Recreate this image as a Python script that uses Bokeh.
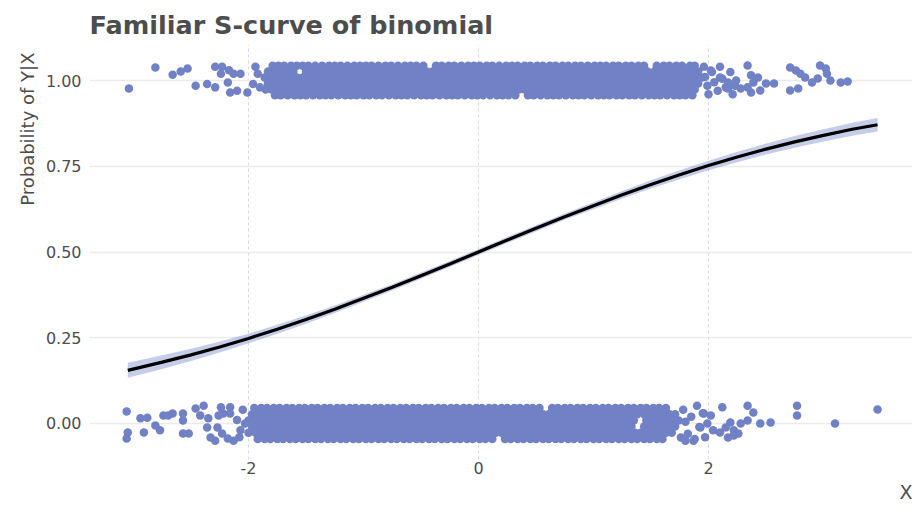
from bokeh.plotting import figure
from bokeh.models import Range1d, FixedTicker, Title
from bokeh.embed import file_html
from bokeh.resources import INLINE

# ---------------- data ----------------
x_tick_vals = [-2, 0, 2]
x_tick_labels = ["-2", "0", "2"]
y_tick_vals = [0.0, 0.25, 0.5, 0.75, 1.0]
y_tick_labels = ["0.00", "0.25", "0.50", "0.75", "1.00"]

# fitted curve and its confidence band
curve_x = [-3.05, -2.75, -2.5, -2.25, -2.0, -1.75, -1.5, -1.25, -1.0, -0.75, -0.5, -0.25, 0.0,
           0.25, 0.5, 0.75, 1.0, 1.25, 1.5, 1.75, 2.0, 2.25, 2.5, 2.75, 3.0, 3.25, 3.47]
curve_p = [0.155, 0.179, 0.200, 0.223, 0.248, 0.275, 0.303, 0.333, 0.365, 0.397, 0.431, 0.465, 0.500,
           0.535, 0.569, 0.603, 0.635, 0.667, 0.697, 0.725, 0.752, 0.777, 0.800, 0.821, 0.840, 0.858, 0.871]
curve_lo = [0.133, 0.159, 0.182, 0.207, 0.234, 0.262, 0.291, 0.322, 0.355, 0.388, 0.422, 0.456, 0.491,
            0.526, 0.560, 0.594, 0.625, 0.656, 0.685, 0.712, 0.738, 0.762, 0.784, 0.804, 0.822, 0.839, 0.851]
curve_hi = [0.177, 0.199, 0.218, 0.239, 0.262, 0.288, 0.315, 0.344, 0.375, 0.406, 0.440, 0.474, 0.509,
            0.544, 0.578, 0.612, 0.645, 0.678, 0.709, 0.738, 0.766, 0.792, 0.816, 0.838, 0.858, 0.877, 0.891]

# jittered observations with Y = 1 : sparse outliers
top_sparse_x = [-3.04, -2.81, -2.66, -2.59, -2.53, -2.46, -2.36, -2.29, -2.23, -2.24, -2.29, -2.17, -2.13,
                -2.07, -2.18, -2.16, -2.10, -2.01, -1.94, -1.92, -1.96, -1.90, -1.83,
                1.96, 1.97, 1.99, 2.00, 2.03, 2.05, 2.08, 2.10, 2.12, 2.15, 2.19, 2.21, 2.24,
                2.02, 2.10, 2.17, 2.17, 2.23, 2.28, 2.34, 2.37, 2.43, 2.39, 2.50, 2.57, 2.34, 2.37, 2.45,
                2.71, 2.76, 2.80, 2.97, 3.02, 3.03, 2.84, 2.90, 2.95, 2.71, 2.78, 3.06, 3.15, 3.21]
top_sparse_y = [0.977, 1.038, 1.017, 1.026, 1.035, 0.985, 0.990, 1.040, 1.040, 1.020, 0.980, 1.030, 1.020,
                1.020, 0.994, 0.965, 0.970, 0.965, 1.040, 1.020, 0.990, 0.980, 0.990,
                1.040, 1.010, 0.985, 0.960, 1.025, 0.995, 0.970, 1.040, 1.005, 0.980, 1.025, 0.960, 1.000,
                1.029, 1.009, 0.994, 0.977, 0.985, 0.977, 1.044, 1.015, 1.009, 0.994, 0.991, 0.991, 0.980,
                0.965, 0.971, 1.038, 1.029, 1.020, 1.044, 1.035, 1.020, 1.009, 0.994, 1.006, 0.971, 0.977,
                1.000, 0.994, 0.997]

# jittered observations with Y = 1 : dense part, row by row
top_rows_y = [1.043, 1.026, 1.009, 0.991, 0.974, 0.957]
top_row1_x = [-1.79, -1.74, -1.69, -1.63, -1.58, -1.53, -1.48, -1.42, -1.36, -1.30, -1.25, -1.20, -1.14, -1.08,
              -1.03, -0.98, -0.93, -0.87, -0.81, -0.76, -0.70, -0.64, -0.59, -0.54, -0.48, -0.37, -0.32,
              -0.26, -0.21, -0.15, -0.09, -0.04, 0.01, 0.07, 0.12, 0.18, 0.24, 0.29, 0.34, 0.40, 0.45,
              0.51, 0.56, 0.62, 0.67, 0.73, 0.78, 0.84, 0.89, 0.95, 1.01, 1.06, 1.11, 1.17, 1.22, 1.28, 1.33,
              1.39, 1.44, 1.55, 1.61, 1.66, 1.72, 1.77, 1.84, 1.88]
top_row2_x = [-1.83, -1.77, -1.72, -1.66, -1.61, -1.50, -1.44, -1.39, -1.33, -1.28, -1.22, -1.17, -1.11,
              -1.06, -1.00, -0.95, -0.89, -0.84, -0.78, -0.73, -0.67, -0.62, -0.56, -0.51, -0.45, -0.40,
              -0.34, -0.29, -0.23, -0.18, -0.12, -0.07, -0.01, 0.04, 0.10, 0.15, 0.21, 0.26, 0.32, 0.37,
              0.43, 0.48, 0.54, 0.59, 0.65, 0.70, 0.76, 0.81, 0.87, 0.92, 0.98, 1.03, 1.09, 1.14, 1.20,
              1.25, 1.31, 1.36, 1.42, 1.47, 1.53, 1.58, 1.64, 1.69, 1.75, 1.80, 1.86, 1.91]
top_row3_x = [-1.86, -1.80, -1.75, -1.69, -1.64, -1.58, -1.53, -1.47, -1.42, -1.36, -1.31, -1.25, -1.20,
              -1.14, -1.09, -1.03, -0.98, -0.92, -0.87, -0.81, -0.76, -0.70, -0.65, -0.59, -0.54, -0.48,
              -0.43, -0.37, -0.32, -0.26, -0.21, -0.15, -0.10, -0.04, 0.01, 0.07, 0.12, 0.18, 0.23, 0.29,
              0.34, 0.40, 0.45, 0.51, 0.56, 0.62, 0.67, 0.73, 0.78, 0.84, 0.89, 0.95, 1.00, 1.06, 1.11,
              1.17, 1.22, 1.28, 1.33, 1.39, 1.44, 1.50, 1.55, 1.61, 1.66, 1.72, 1.77, 1.83, 1.88, 1.94]
top_row4_x = [-1.83, -1.78, -1.72, -1.66, -1.61, -1.55, -1.50, -1.44, -1.39, -1.33, -1.28, -1.22, -1.17,
              -1.11, -1.06, -1.00, -0.95, -0.89, -0.84, -0.78, -0.73, -0.67, -0.62, -0.56, -0.51, -0.45,
              -0.40, -0.34, -0.29, -0.23, -0.18, -0.12, -0.07, -0.01, 0.04, 0.10, 0.15, 0.21, 0.26, 0.32,
              0.37, 0.43, 0.48, 0.54, 0.59, 0.65, 0.70, 0.76, 0.81, 0.87, 0.92, 0.98, 1.03, 1.09, 1.14,
              1.20, 1.25, 1.31, 1.36, 1.42, 1.47, 1.53, 1.58, 1.64, 1.69, 1.75, 1.80, 1.86, 1.91]
top_row5_x = [-1.85, -1.80, -1.74, -1.69, -1.63, -1.58, -1.52, -1.47, -1.42, -1.36, -1.30, -1.25, -1.19,
              -1.14, -1.09, -1.03, -0.97, -0.92, -0.87, -0.81, -0.75, -0.70, -0.65, -0.59, -0.53, -0.48,
              -0.43, -0.37, -0.31, -0.26, -0.21, -0.15, -0.09, -0.04, 0.01, 0.07, 0.13, 0.18, 0.23, 0.29,
              0.35, 0.40, 0.45, 0.51, 0.57, 0.62, 0.67, 0.73, 0.79, 0.84, 0.89, 0.95, 1.01, 1.06, 1.11,
              1.17, 1.23, 1.28, 1.33, 1.39, 1.45, 1.50, 1.55, 1.61, 1.67, 1.72, 1.77, 1.83, 1.88]
top_row6_x = [-1.77, -1.72, -1.66, -1.60, -1.55, -1.50, -1.44, -1.38, -1.33, -1.28, -1.22, -1.16, -1.11,
              -1.06, -1.00, -0.95, -0.89, -0.84, -0.78, -0.72, -0.67, -0.62, -0.56, -0.50, -0.45, -0.40, -0.34,
              -0.28, -0.23, -0.18, -0.12, -0.06, -0.01, 0.04, 0.10, 0.16, 0.21, 0.26, 0.32, 0.43, 0.48,
              0.54, 0.60, 0.65, 0.70, 0.76, 0.82, 0.87, 0.92, 0.98, 1.04, 1.09, 1.14, 1.20, 1.25, 1.31, 1.36,
              1.42, 1.48, 1.53, 1.58, 1.64, 1.70, 1.75, 1.80, 1.86]

# jittered observations with Y = 0 : sparse outliers
bot_sparse_x = [-3.06, -3.06, -3.05, -2.94, -2.88, -2.91, -2.81, -2.77, -2.74, -2.70, -2.66, -2.57, -2.57,
                -2.57, -2.52, -2.46, -2.39, -2.42, -2.35, -2.36, -2.33, -2.29, -2.24, -2.16, -2.22, -2.16,
                -2.26, -2.27, -2.23, -2.18, -2.13, -2.07, -2.10, -2.05, -2.08, -2.03,
                1.78, 1.80, 1.82, 1.85, 1.88, 1.90, 1.92, 1.95, 1.97,
                2.12, 2.34, 2.39, 2.77, 2.77, 3.10, 3.47, 2.54, 2.45, 2.34, 2.28, 2.19, 2.15, 2.22, 2.26,
                2.04, 2.10, 2.17, 2.22, 1.76, 1.80, 1.87, 1.93, 1.99, 2.02, 1.96]
bot_sparse_y = [0.035, -0.044, -0.026, 0.015, 0.017, -0.026, -0.006, -0.020, 0.023, 0.023, 0.029, 0.029, 0.009,
                -0.029, -0.029, 0.044, 0.052, 0.023, 0.015, -0.012, -0.041, -0.050, 0.047, 0.047, 0.029, 0.029,
                0.023, -0.012, -0.029, -0.044, -0.050, -0.020, 0.010, 0.040, -0.040, 0.000,
                0.040, 0.005, -0.030, 0.020, -0.045, 0.052, -0.010, 0.030, -0.040,
                0.047, 0.052, 0.032, 0.052, 0.023, 0.000, 0.041, 0.003, 0.000, 0.009, 0.000, 0.003, -0.012,
                -0.020, -0.029, -0.020, -0.026, -0.041, -0.035, -0.041, -0.050, -0.050, -0.012, 0.000,
                0.023, 0.029]

# jittered observations with Y = 0 : dense part, row by row
bot_rows_y = [0.045, 0.027, 0.009, -0.009, -0.027, -0.045]
bot_row1_x = [-1.95, -1.89, -1.84, -1.78, -1.73, -1.67, -1.62, -1.56, -1.51, -1.45, -1.40, -1.34, -1.29, -1.23,
              -1.18, -1.12, -1.07, -1.01, -0.96, -0.90, -0.85, -0.79, -0.74, -0.68, -0.63, -0.57, -0.52,
              -0.46, -0.41, -0.35, -0.30, -0.24, -0.19, -0.13, -0.08, -0.02, 0.03, 0.09, 0.14, 0.20, 0.25, 0.31,
              0.36, 0.42, 0.47, 0.53, 0.64, 0.69, 0.75, 0.80, 0.86, 0.91, 0.97, 1.02, 1.08, 1.13, 1.19,
              1.24, 1.30, 1.35, 1.41, 1.46, 1.52, 1.57, 1.63]
bot_row2_x = [-1.97, -1.92, -1.86, -1.81, -1.75, -1.70, -1.64, -1.59, -1.53, -1.48, -1.42, -1.37, -1.31,
              -1.26, -1.20, -1.15, -1.09, -1.04, -0.98, -0.93, -0.87, -0.82, -0.76, -0.71, -0.65, -0.60,
              -0.54, -0.49, -0.43, -0.38, -0.32, -0.27, -0.21, -0.16, -0.10, -0.05, 0.01, 0.06, 0.12, 0.17,
              0.23, 0.28, 0.34, 0.39, 0.45, 0.50, 0.56, 0.61, 0.67, 0.72, 0.78, 0.83, 0.89, 0.94, 1.00,
              1.05, 1.11, 1.16, 1.22, 1.27, 1.33, 1.38, 1.44, 1.49, 1.55, 1.60, 1.66, 1.71]
bot_row3_x = [-2.00, -1.95, -1.89, -1.84, -1.78, -1.73, -1.67, -1.62, -1.56, -1.51, -1.45, -1.40, -1.34,
              -1.29, -1.23, -1.18, -1.12, -1.07, -1.01, -0.96, -0.90, -0.85, -0.79, -0.74, -0.68, -0.63,
              -0.57, -0.52, -0.46, -0.41, -0.35, -0.30, -0.24, -0.19, -0.13, -0.08, -0.02, 0.03, 0.09, 0.14,
              0.20, 0.25, 0.31, 0.36, 0.42, 0.47, 0.53, 0.58, 0.64, 0.69, 0.75, 0.80, 0.86, 0.91, 0.97,
              1.02, 1.08, 1.13, 1.19, 1.24, 1.30, 1.35, 1.46, 1.52, 1.57, 1.63, 1.68, 1.74]
bot_row4_x = [-1.97, -1.91, -1.86, -1.80, -1.75, -1.70, -1.64, -1.58, -1.53, -1.48, -1.42, -1.36, -1.31,
              -1.26, -1.20, -1.14, -1.09, -1.04, -0.98, -0.92, -0.87, -0.82, -0.76, -0.70, -0.65, -0.60,
              -0.54, -0.48, -0.43, -0.38, -0.32, -0.26, -0.21, -0.16, -0.10, -0.04, 0.01, 0.06, 0.12, 0.18,
              0.23, 0.28, 0.34, 0.40, 0.45, 0.50, 0.56, 0.62, 0.67, 0.72, 0.78, 0.84, 0.89, 0.94, 1.00,
              1.06, 1.11, 1.16, 1.22, 1.28, 1.33, 1.44, 1.49, 1.55, 1.60, 1.66, 1.71]
bot_row5_x = [-2.00, -1.94, -1.89, -1.83, -1.78, -1.72, -1.67, -1.61, -1.56, -1.50, -1.45, -1.39, -1.34,
              -1.28, -1.23, -1.17, -1.12, -1.06, -1.01, -0.95, -0.90, -0.84, -0.79, -0.73, -0.68, -0.62,
              -0.57, -0.51, -0.46, -0.40, -0.35, -0.29, -0.24, -0.18, -0.13, -0.07, -0.02, 0.04, 0.09, 0.15,
              0.20, 0.26, 0.31, 0.37, 0.42, 0.48, 0.53, 0.59, 0.64, 0.70, 0.75, 0.81, 0.86, 0.92, 0.97,
              1.03, 1.08, 1.14, 1.19, 1.25, 1.30, 1.36, 1.41, 1.47, 1.52, 1.58, 1.63, 1.68]
bot_row6_x = [-1.92, -1.86, -1.81, -1.75, -1.70, -1.64, -1.59, -1.53, -1.48, -1.42, -1.37, -1.31, -1.26,
              -1.20, -1.15, -1.09, -1.04, -0.98, -0.93, -0.87, -0.82, -0.76, -0.71, -0.65, -0.60, -0.54, -0.49,
              -0.43, -0.38, -0.32, -0.27, -0.21, -0.16, -0.10, -0.05, 0.01, 0.06, 0.12, 0.23, 0.28, 0.34,
              0.39, 0.45, 0.50, 0.56, 0.61, 0.67, 0.72, 0.78, 0.83, 0.89, 0.94, 1.00, 1.05, 1.11, 1.16, 1.22,
              1.27, 1.33, 1.38, 1.44, 1.49, 1.55, 1.60]

title_text = "Familiar S-curve of binomial"
x_title = "X"
y_title = "Probability of Y|X"

# ---------------- assemble ----------------
top_rows_x = [top_row1_x, top_row2_x, top_row3_x, top_row4_x, top_row5_x, top_row6_x]
bot_rows_x = [bot_row1_x, bot_row2_x, bot_row3_x, bot_row4_x, bot_row5_x, bot_row6_x]

pts_x, pts_y = [], []
for rows_x, rows_y in ((top_rows_x, top_rows_y), (bot_rows_x, bot_rows_y)):
    for xs, yv in zip(rows_x, rows_y):
        pts_x.extend(xs)
        pts_y.extend([yv] * len(xs))
pts_x += top_sparse_x + bot_sparse_x
pts_y += top_sparse_y + bot_sparse_y

POINT = "#7181C6"
TEXT = "#4d4d4d"
FONT = "DejaVu Sans"

p = figure(width=914, height=512, output_backend="svg", toolbar_location=None,
           x_range=Range1d(-3.383, 3.774), y_range=Range1d(-0.105, 1.105),
           min_border_left=89, min_border_right=2, min_border_top=44, min_border_bottom=53)

p.scatter(pts_x, pts_y, size=8.5, fill_color=POINT, line_color=None)
p.varea(x=curve_x, y1=curve_lo, y2=curve_hi, fill_color=POINT, fill_alpha=0.4)
p.line(curve_x, curve_p, line_color="black", line_width=3.2)

p.title.text = title_text
p.title.text_font = FONT
p.title.text_font_size = "25.5px"
p.title.text_font_style = "bold"
p.title.text_color = TEXT
p.title.align = "left"
p.title.standoff = 9

p.add_layout(Title(text=x_title, align="right", text_font=FONT, text_font_size="19px",
                   text_font_style="normal", text_color=TEXT, standoff=4), "below")
p.add_layout(Title(text=y_title, align="right", offset=8, text_font=FONT, text_font_size="18px",
                   text_font_style="normal", text_color=TEXT, standoff=10), "left")

p.xaxis.ticker = FixedTicker(ticks=x_tick_vals)
p.yaxis.ticker = FixedTicker(ticks=y_tick_vals)
p.xaxis.major_label_overrides = dict(zip(x_tick_vals, x_tick_labels))
p.yaxis.major_label_overrides = dict(zip(y_tick_vals, y_tick_labels))
for ax in (p.xaxis[0], p.yaxis[0]):
    ax.axis_line_color = None
    ax.major_tick_line_color = None
    ax.minor_tick_line_color = None
    ax.major_tick_out = 0
    ax.major_tick_in = 0
    ax.major_label_text_font = FONT
    ax.major_label_text_font_size = "16px"
    ax.major_label_text_color = TEXT
p.xaxis[0].major_label_standoff = 2
p.yaxis[0].major_label_standoff = 8

p.xgrid.ticker = FixedTicker(ticks=x_tick_vals)
p.ygrid.ticker = FixedTicker(ticks=y_tick_vals)
p.xgrid.grid_line_color = "#d9d9d9"
p.xgrid.grid_line_dash = "3 3"
p.xgrid.grid_line_width = 1
p.ygrid.grid_line_color = "#ebebeb"
p.ygrid.grid_line_width = 1.5
p.outline_line_color = None
p.background_fill_color = "white"
p.border_fill_color = "white"

open("out.html", "w").write(file_html(p, INLINE))
